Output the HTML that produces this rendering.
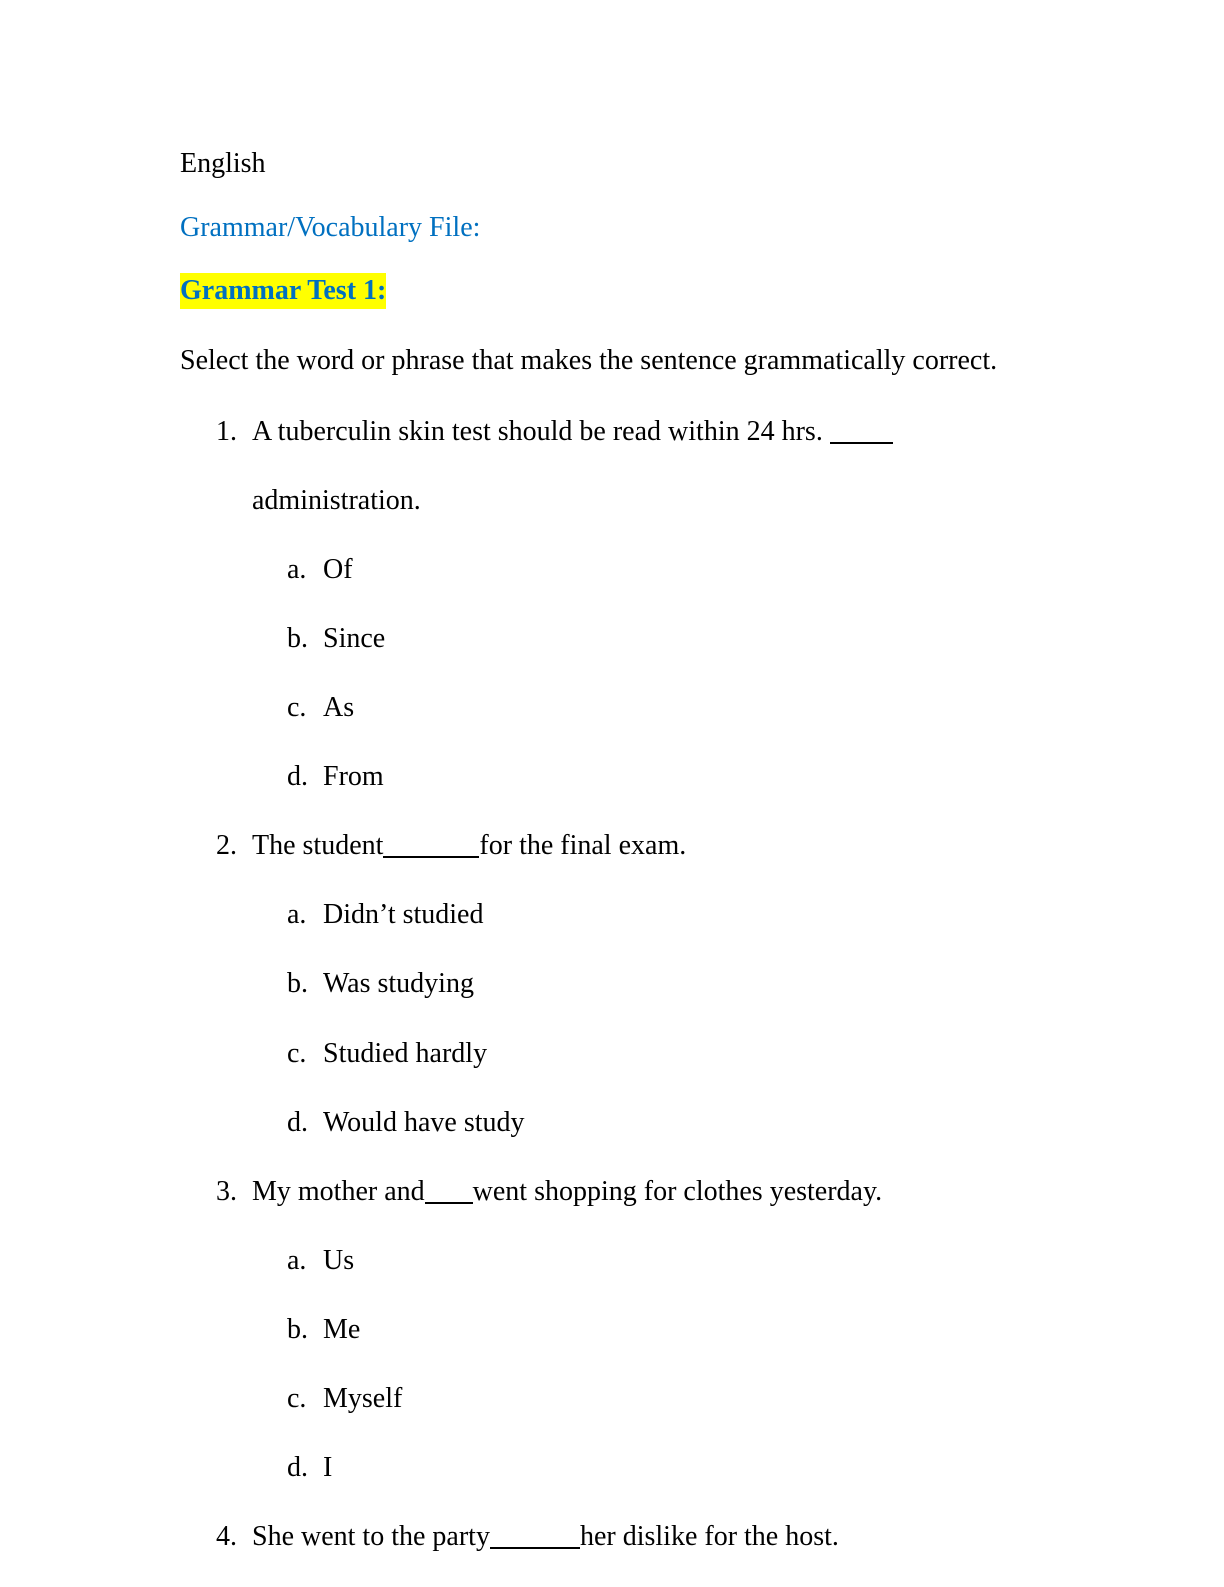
<!DOCTYPE html>
<html><head><meta charset="utf-8"><style>
html,body{margin:0;padding:0;background:#fff;}
body{width:1224px;height:1584px;position:relative;overflow:hidden;font-family:"Liberation Serif",serif;font-size:28px;color:#000;}
#w{position:absolute;left:0;top:3px;width:1224px;height:1584px;}
.l{position:absolute;line-height:28px;white-space:pre;}
.blue{color:#0070C0;}
.hl{background:#ffff00;font-weight:bold;color:#0070C0;padding:2px 0 3px 0;}
.b{display:inline-block;height:0;border-bottom:2px solid #000;position:relative;top:4px;}
</style></head><body><div id="w">
<div class="l" style="left:180px;top:147px">English</div>
<div class="l blue" style="left:180px;top:211px">Grammar/Vocabulary File:</div>
<div class="l" style="left:180px;top:274px"><span class="hl">Grammar Test 1:</span></div>
<div class="l" style="left:180px;top:344px">Select the word or phrase that makes the sentence grammatically correct.</div>

<div class="l" style="left:216px;top:415px">1.</div>
<div class="l" style="left:252px;top:415px">A tuberculin skin test should be read within 24 hrs. <span class="b" style="width:63px"></span></div>
<div class="l" style="left:252px;top:484px">administration.</div>
<div class="l" style="left:287px;top:553px">a.</div><div class="l" style="left:323px;top:553px">Of</div>
<div class="l" style="left:287px;top:622px">b.</div><div class="l" style="left:323px;top:622px">Since</div>
<div class="l" style="left:287px;top:691px">c.</div><div class="l" style="left:323px;top:691px">As</div>
<div class="l" style="left:287px;top:760px">d.</div><div class="l" style="left:323px;top:760px">From</div>

<div class="l" style="left:216px;top:829px">2.</div>
<div class="l" style="left:252px;top:829px">The student<span class="b" style="width:96px"></span>for the final exam.</div>
<div class="l" style="left:287px;top:898px">a.</div><div class="l" style="left:323px;top:898px">Didn’t studied</div>
<div class="l" style="left:287px;top:967px">b.</div><div class="l" style="left:323px;top:967px">Was studying</div>
<div class="l" style="left:287px;top:1037px">c.</div><div class="l" style="left:323px;top:1037px">Studied hardly</div>
<div class="l" style="left:287px;top:1106px">d.</div><div class="l" style="left:323px;top:1106px">Would have study</div>

<div class="l" style="left:216px;top:1175px">3.</div>
<div class="l" style="left:252px;top:1175px">My mother and<span class="b" style="width:48px"></span>went shopping for clothes yesterday.</div>
<div class="l" style="left:287px;top:1244px">a.</div><div class="l" style="left:323px;top:1244px">Us</div>
<div class="l" style="left:287px;top:1313px">b.</div><div class="l" style="left:323px;top:1313px">Me</div>
<div class="l" style="left:287px;top:1382px">c.</div><div class="l" style="left:323px;top:1382px">Myself</div>
<div class="l" style="left:287px;top:1451px">d.</div><div class="l" style="left:323px;top:1451px">I</div>

<div class="l" style="left:216px;top:1520px">4.</div>
<div class="l" style="left:252px;top:1520px">She went to the party<span class="b" style="width:90px"></span>her dislike for the host.</div>
</div></body></html>
